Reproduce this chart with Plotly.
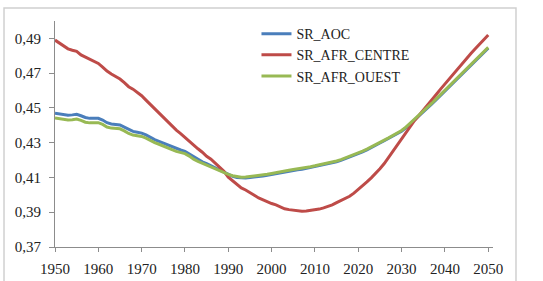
import plotly.graph_objects as go

years = list(range(1950, 2051))

sr_aoc = [
    .4470, .4465, .4460, .4458, .4460, .4463, .4455, .4445, .4440, .4440,
    .4440, .4430, .4415, .4408, .4405, .4402, .4390, .4375, .4365, .4360,
    .4355, .4345, .4330, .4318, .4308, .4298, .4288, .4275, .4265, .4258,
    .4250, .4235, .4215, .4203, .4190, .4180, .4168, .4155, .4143, .4130,
    .4116, .4106, .4100, .4097, .4097, .4100, .4102, .4103, .4108, .4113,
    .4118, .4122, .4124, .4129, .4136, .4141, .4144, .4147, .4152, .4157,
    .4162, .4167, .4172, .4177, .4183, .4190, .4198, .4207, .4216, .4226,
    .4236, .4247, .4258, .4270, .4283, .4298, .4311, .4324, .4338, .4352,
    .4366, .4386, .4408, .4431, .4454, .4476, .4499, .4523, .4548, .4573,
    .4598, .4623, .4648, .4673, .4698, .4723, .4748, .4773, .4797, .4821,
    .4844,
]

sr_afr_centre = [
    .4890, .4875, .4855, .4840, .4832, .4825, .4805, .4792, .4780, .4770,
    .4756, .4735, .4712, .4695, .4680, .4666, .4645, .4622, .4608, .4590,
    .4570, .4545, .4520, .4495, .4470, .4448, .4420, .4395, .4372, .4352,
    .4330, .4305, .4282, .4265, .4245, .4222, .4205, .4183, .4160, .4135,
    .4102, .4082, .4060, .4040, .4028, .4015, .3998, .3982, .3970, .3958,
    .3950, .3942, .3930, .3920, .3915, .3912, .3908, .3906, .3907, .3910,
    .3913, .3918, .3925, .3932, .3942, .3955, .3968, .3978, .3992, .4010,
    .4030, .4052, .4075, .4098, .4122, .4150, .4180, .4215, .4250, .4287,
    .4323, .4360, .4395, .4428, .4456, .4485, .4515, .4545, .4577, .4608,
    .4638, .4668, .4698, .4728, .4757, .4786, .4813, .4840, .4867, .4893,
    .4920,
]

sr_afr_ouest = [
    .4442, .4437, .4432, .4430, .4432, .4436, .4428, .4418, .4414, .4414,
    .4415, .4405, .4390, .4384, .4382, .4380, .4368, .4353, .4344, .4340,
    .4336, .4326, .4312, .4300, .4291, .4282, .4272, .4260, .4250, .4244,
    .4237, .4223, .4205, .4193, .4182, .4172, .4162, .4150, .4140, .4128,
    .4118, .4110, .4104, .4101, .4102, .4105, .4107, .4108, .4113, .4118,
    .4123, .4127, .4129, .4134, .4141, .4146, .4149, .4152, .4157, .4162,
    .4167, .4172, .4177, .4182, .4188, .4195, .4203, .4212, .4221, .4231,
    .4241, .4252, .4263, .4275, .4288, .4302, .4315, .4328, .4342, .4356,
    .4370, .4390, .4412, .4435, .4458, .4480, .4503, .4527, .4552, .4577,
    .4602, .4627, .4652, .4677, .4702, .4727, .4752, .4777, .4801, .4825,
    .4848,
]

y_ticks = [0.37, 0.39, 0.41, 0.43, 0.45, 0.47, 0.49]
y_tick_labels = ["0,37", "0,39", "0,41", "0,43", "0,45", "0,47", "0,49"]
x_ticks = list(range(1950, 2051, 10))

series = [
    ("SR_AOC", sr_aoc, "#4A7EBB"),
    ("SR_AFR_CENTRE", sr_afr_centre, "#BE4B48"),
    ("SR_AFR_OUEST", sr_afr_ouest, "#98B954"),
]

fig = go.Figure()
for name, vals, color in series:
    fig.add_trace(go.Scatter(x=years, y=vals, mode="lines", name=name,
                             line=dict(color=color, width=3)))

font_family = "Liberation Serif"
fig.update_layout(
    width=543, height=281,
    margin=dict(l=55, r=50, t=21, b=34, autoexpand=False),
    paper_bgcolor="white", plot_bgcolor="white",
    showlegend=True,
    legend=dict(x=0.46, y=1.013, xanchor="left", yanchor="top",
                font=dict(family=font_family, size=14, color="#222"),
                bgcolor="rgba(0,0,0,0)", tracegroupgap=0),
    xaxis=dict(range=[1950, 2051.1], tickvals=x_ticks, showgrid=False,
               zeroline=False, showline=True, linecolor="#8c8c8c", linewidth=1,
               ticks="outside", ticklen=4, tickcolor="#8c8c8c",
               ticklabelstandoff=4, automargin=False,
               tickfont=dict(family=font_family, size=15, color="#222")),
    yaxis=dict(range=[0.37, 0.50], tickvals=y_ticks, ticktext=y_tick_labels,
               showgrid=False, zeroline=False, showline=True,
               linecolor="#8c8c8c", linewidth=1,
               ticks="outside", ticklen=5, tickcolor="#8c8c8c",
               ticklabelstandoff=5, automargin=False,
               tickfont=dict(family=font_family, size=15, color="#222")),
    shapes=[dict(type="rect", xref="paper", yref="paper",
                 x0=-0.1164, x1=1.0525, y0=-0.2, y1=1.0575,
                 line=dict(color="#d0d0d0", width=1.5), layer="below")],
)

fig.write_html("out.html")
